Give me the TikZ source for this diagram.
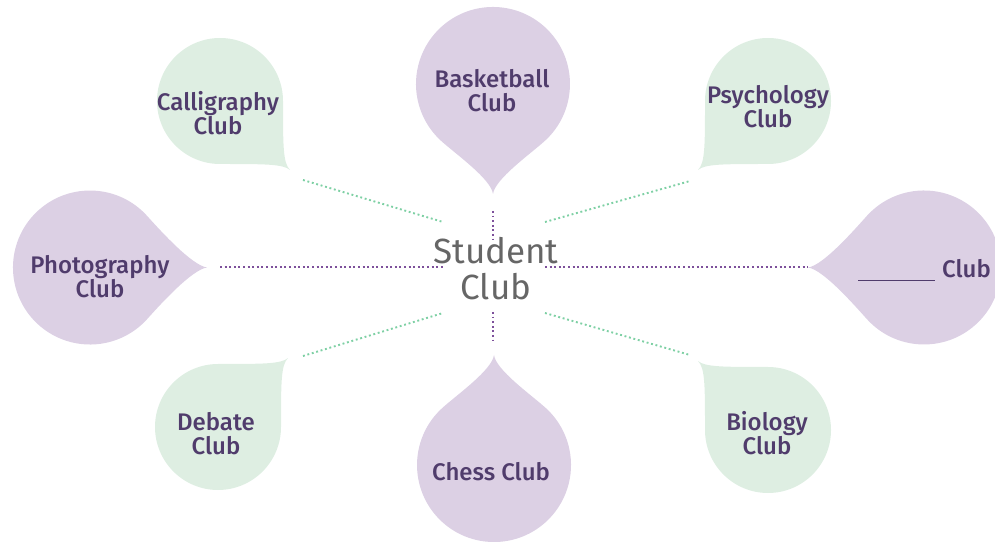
\documentclass[tikz,border=0pt]{standalone}
\usepackage{fontspec}
\setmainfont{Fira Sans}
\newfontfamily\medfont{Fira Sans}[UprightFont=* Medium]
\definecolor{pfill}{RGB}{220,208,228}
\definecolor{gfill}{RGB}{222,238,226}
\definecolor{ptext}{RGB}{80,60,108}
\definecolor{gtext}{RGB}{102,102,102}
\definecolor{pdot}{RGB}{125,80,155}
\definecolor{gdotc}{RGB}{126,208,164}
\newcommand{\dropshape}[4]{%
  \begin{scope}[shift={#1}, rotate=#2]
    \fill[pfill] (#3,0) .. controls ({#3-15},2) and (70.6,36.6) .. (57.2,51.5)
      arc[start angle=42, end angle=318, radius=77pt]
      .. controls (70.6,-36.6) and ({#3-15},-2) .. cycle;
    \coordinate (#4) at (0,0);
  \end{scope}}
\newcommand{\leafshape}[4]{%
  \begin{scope}[shift={#1}, xscale=#2, yscale=#3]
    \fill[gfill] (63,0) arc[start angle=0, end angle=270, radius=63pt]
      .. controls (45,-63) and (63,-63) .. (70,-69)
      .. controls (63,-62) and (63,-45) .. cycle;
    \coordinate (#4) at (0,0);
  \end{scope}}
\begin{document}
\begin{tikzpicture}[x=1pt,y=1pt,
  lab/.style={text=ptext, align=center, font=\medfont\fontsize{24}{24}\selectfont, inner sep=0pt},
  pdots/.style={draw=pdot, line width=1.9pt, dash pattern=on 1.9pt off 2.7pt},
  gdots/.style={draw=gdotc, line width=1.9pt, dash pattern=on 1.9pt off 2.7pt}]
\useasboundingbox (0,0) rectangle (995,541);
\clip (0,0) rectangle (995,541);
% purple drops
\dropshape{(493,457)}{270}{110}{cbask}
\dropshape{(494,76)}{90}{110}{cchess}
\dropshape{(90,273.5)}{0}{117}{cphoto}
\dropshape{(924,273.5)}{180}{116}{cblank}
% green bubbles
\leafshape{(220,440)}{1}{1}{ccall}
\leafshape{(768,440)}{-1}{1}{cpsy}
\leafshape{(218,114)}{1}{-1}{cdeb}
\leafshape{(768,111)}{-1}{-1}{cbio}
% labels
\node[lab] (tcall) at (218,428) {Calligraphy\\Club};
\node[lab] (tbask) at (492,450) {Basketball\\Club};
\node[lab] (tpsy) at (768,434) {Psychology\\Club};
\node[lab] (tphoto) at (100,264) {Photography\\Club};
\node[lab, anchor=base west] (tblank) at (858,263) {\rule[-3pt]{77pt}{1.2pt}\hspace{7pt}Club};
\node[lab] (tdeb) at (216,107) {Debate\\Club};
\node[lab] (tchess) at (491,69) {Chess Club};
\node[lab] (tbio) at (767,108) {Biology\\Club};
\node[text=gtext, align=center, font=\fontsize{35}{36}\selectfont, inner sep=0pt] (sc) at (496,272) {Student\\Club};
% connector end points
\coordinate (a1) at (303,361); \coordinate (a2) at (443,319);
\coordinate (b1) at (545,319); \coordinate (b2) at (690,360);
\coordinate (c1) at (303,185); \coordinate (c2) at (443,228);
\coordinate (d1) at (545,228); \coordinate (d2) at (690,186);
\coordinate (e1) at (220,274); \coordinate (e2) at (445,274);
\coordinate (f1) at (545,274); \coordinate (f2) at (808,274);
\coordinate (g1) at (493,330); \coordinate (g2) at (493,301);
\coordinate (h1) at (493,229); \coordinate (h2) at (493,199);
\draw[gdots] (a1) -- (a2);
\draw[gdots] (b1) -- (b2);
\draw[gdots] (c1) -- (c2);
\draw[gdots] (d1) -- (d2);
\draw[pdots] (e1) -- (e2);
\draw[pdots] (f1) -- (f2);
\draw[pdots] (g1) -- (g2);
\draw[pdots] (h1) -- (h2);
\end{tikzpicture}
\end{document}
